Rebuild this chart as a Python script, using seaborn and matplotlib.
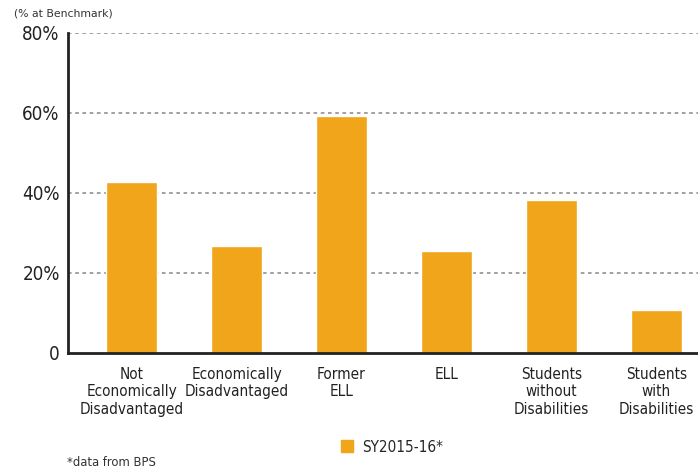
import matplotlib
matplotlib.use("Agg")
import matplotlib.pyplot as plt
import matplotlib.font_manager as fm
from matplotlib.patches import Patch
import seaborn as sns
import pandas as pd

categories = ["Not\nEconomically\nDisadvantaged", "Economically\nDisadvantaged", "Former\nELL",
              "ELL", "Students\nwithout\nDisabilities", "Students\nwith\nDisabilities"]
values = [42.75, 26.75, 59.25, 25.5, 38.25, 10.75]
series = "SY2015-16*"
yticks = [0, 20, 40, 60, 80]
ytick_labels = ["0", "20%", "40%", "60%", "80%"]

sns.set_style("white")
plt.rcParams['font.family'] = ['DejaVu Sans']

# look for a condensed face for the labels
narrow = None
for f in fm.fontManager.ttflist:
    txt = (f.name + " " + f.fname).lower()
    if ("narrow" in txt or "condensed" in txt) and f.style == "normal" and f.weight in (400, "normal", "regular"):
        if "bold" in f.fname.lower() or "light" in f.fname.lower():
            continue
        narrow = f.fname
        break

def fp(size):
    if narrow:
        return fm.FontProperties(fname=narrow, size=size)
    return fm.FontProperties(family="DejaVu Sans", size=size * 0.85)

df = pd.DataFrame({"group": categories, "pct": values, "year": series})

fig = plt.figure(figsize=(6.98, 4.72), dpi=100)
ax = fig.add_axes([68/698, 1-353/472, 630/698, 320/472])
sns.barplot(data=df, x="group", y="pct", hue="year", palette=["#F0A51A"],
            width=0.486, ax=ax, saturation=1, legend=False)

ax.set_xlim(-0.605, 5.395)
ax.set_ylim(0, 80)
ax.set_yticks(yticks)
ax.set_yticklabels(ytick_labels)
ax.tick_params(axis="x", colors="#222222", length=0, pad=10)
ax.tick_params(axis="y", colors="#222222", length=0, pad=6)
for lab in ax.get_yticklabels():
    lab.set_fontproperties(fp(13.5))
for lab in ax.get_xticklabels():
    lab.set_fontproperties(fp(11))
    lab.set_linespacing(1.2)
ax.set_xlabel("")
ax.set_ylabel("")
for y in yticks[1:]:
    ax.axhline(y, color="#999999", ls=(0, (2, 2)), lw=1.3, zorder=0)
for s in ["top", "right"]:
    ax.spines[s].set_visible(False)
for s in ["left", "bottom"]:
    ax.spines[s].set_linewidth(2)
    ax.spines[s].set_color("#222222")

fig.legend(handles=[Patch(color="#F0A51A", label=series)], loc="center left",
           bbox_to_anchor=(341/698, 1-447/472), frameon=False, prop=fp(11),
           borderpad=0, borderaxespad=0, handlelength=0.8, handleheight=0.8,
           handletextpad=0.6)

fig.text(14/698, 1-13/472, "(% at Benchmark)", fontsize=7.8, family="DejaVu Sans",
         color="#333333", va="center")
fig.text(67/698, 1-463/472, "*data from BPS", fontproperties=fp(9.3),
         color="#333333", va="center")

fig.savefig("out.png", dpi=100)
